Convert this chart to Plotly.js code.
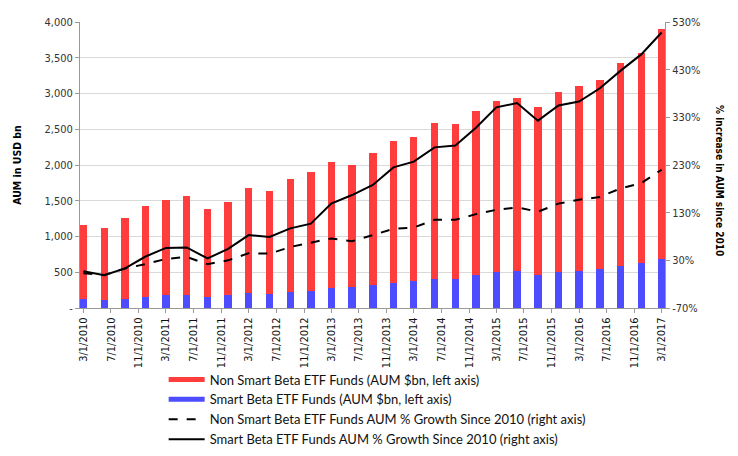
<!DOCTYPE html>
<html>
<head>
<meta charset="utf-8">
<script src="https://cdn.plot.ly/plotly-3.0.1.min.js"></script>
<style>html,body{margin:0;padding:0;background:#fff;}#chart{width:738px;height:456px;}</style>
</head>
<body>
<div id="chart"></div>
<script>
var dates = ['2010-03-01','2010-06-01','2010-09-01','2010-12-01',
  '2011-03-01','2011-06-01','2011-09-01','2011-12-01',
  '2012-03-01','2012-06-01','2012-09-01','2012-12-01',
  '2013-03-01','2013-06-01','2013-09-01','2013-12-01',
  '2014-03-01','2014-06-01','2014-09-01','2014-12-01',
  '2015-03-01','2015-06-01','2015-09-01','2015-12-01',
  '2016-03-01','2016-06-01','2016-09-01','2016-12-01',
  '2017-03-01'];
var smartBetaAUM = [120,106,130,154,176,176,148,176,204,200,218,232,279,298,325,353,372,409,409,455,497,511,465,507,511,545,581,623,679];
var nonSmartBetaAUM = [1040,1012,1132,1266,1337,1389,1235,1309,1477,1443,1593,1676,1765,1704,1849,1984,2025,2180,2170,2297,2395,2431,2343,2515,2590,2640,2850,2939,3223];
var smartBetaGrowth = [7,-1,13,38,56,57,34,54,83,79,97,107,149,167,188,225,237,267,271,308,351,360,323,355,363,391,428,462,508];
var nonSmartBetaGrowth = [3,-1,13,22,33,37,22,30,45,44,58,67,76,70,83,96,99,115,115,127,136,141,132,149,157,163,181,192,220];
var leftTickVals = [0,500,1000,1500,2000,2500,3000,3500,4000];
var leftTickText = ['-','500','1,000','1,500','2,000','2,500','3,000','3,500','4,000'];
var rightTickVals = [-70,30,130,230,330,430,530];
var rightTickText = ['-70%','30%','130%','230%','330%','430%','530%'];
var names = ['Non Smart Beta ETF Funds (AUM $bn, left axis)',
  'Smart Beta ETF Funds (AUM $bn, left axis)',
  'Non Smart Beta ETF Funds AUM % Growth Since 2010 (right axis)',
  'Smart Beta ETF Funds AUM % Growth Since 2010 (right axis)'];
var leftTitle = 'AUM in USD bn';
var rightTitle = '% increase in AUM since 2010';

var RED = '#FF3D3D', BLUE = '#4D4DFF';
var FONT = '"Liberation Sans Narrow", "DejaVu Sans Condensed", "Liberation Sans", sans-serif';

var traces = [
  {type:'bar', x:dates, y:smartBetaAUM, marker:{color:BLUE}, name:names[1], showlegend:false, legendgroup:'b'},
  {type:'bar', x:dates, y:nonSmartBetaAUM, marker:{color:RED}, name:names[0], showlegend:false, legendgroup:'r'},
  {type:'scatter', mode:'lines', x:dates, y:nonSmartBetaGrowth, yaxis:'y2', name:names[2], line:{color:'#000', width:2, dash:'dash'}, legendrank:3},
  {type:'scatter', mode:'lines', x:dates, y:smartBetaGrowth, yaxis:'y2', name:names[3], line:{color:'#000', width:2}, legendrank:4},
  {type:'scatter', mode:'lines', x:[null], y:[null], name:names[0], line:{color:RED, width:5}, legendgroup:'r', legendrank:1},
  {type:'scatter', mode:'lines', x:[null], y:[null], name:names[1], line:{color:BLUE, width:5}, legendgroup:'b', legendrank:2}
];

var layout = {
  width:738, height:456,
  margin:{l:80, r:73, t:22, b:148, autoexpand:false},
  paper_bgcolor:'#fff', plot_bgcolor:'#fff',
  barmode:'stack', bargap:0.64,
  font:{family:FONT, size:11, color:'#222'},
  showlegend:true,
  legend:{x:0.143, y:0.2007, xref:'paper', yref:'container', xanchor:'left', yanchor:'top', traceorder:'normal', tracegroupgap:0,
    font:{family:'Lato, "Liberation Sans", Arial, sans-serif', size:13, color:'#111'}, itemwidth:36, bgcolor:'rgba(0,0,0,0)'},
  xaxis:{type:'date', automargin:false, range:['2010-02-14','2017-03-16'], tick0:'2010-03-01', dtick:'M4', tickformat:'%-m/%-d/%Y',
    tickangle:-90, showgrid:false, showline:true, linecolor:'#9a9a9a', linewidth:1, ticks:'outside', ticklen:4, tickcolor:'#9a9a9a',
    tickfont:{family:FONT, size:11, color:'#111'}, zeroline:false},
  yaxis:{automargin:false, range:[0,4000], tickvals:leftTickVals, ticktext:leftTickText, showgrid:true, gridcolor:'#d9d9d9', gridwidth:1,
    showline:true, linecolor:'#9a9a9a', ticks:'outside', ticklen:4, tickcolor:'#9a9a9a', zeroline:false,
    tickfont:{family:FONT, size:11, color:'#333'},
    title:{text:leftTitle, font:{family:FONT, size:10.5, color:'#000', weight:'bold'}, standoff:20}},
  yaxis2:{automargin:false, overlaying:'y', side:'right', range:[-70,530], tickvals:rightTickVals, ticktext:rightTickText, showgrid:false,
    showline:true, linecolor:'#9a9a9a', ticks:'outside', ticklen:4, tickcolor:'#9a9a9a', zeroline:false,
    tickfont:{family:FONT, size:11, color:'#333'}},
  annotations:[{text:rightTitle, xref:'paper', yref:'paper', x:1.094, y:0.444, xanchor:'center', yanchor:'middle',
    textangle:90, showarrow:false, font:{family:FONT, size:10, color:'#000', weight:'bold'}}]
};
Plotly.newPlot('chart', traces, layout, {displayModeBar:false, staticPlot:true});
</script>
</body>
</html>
